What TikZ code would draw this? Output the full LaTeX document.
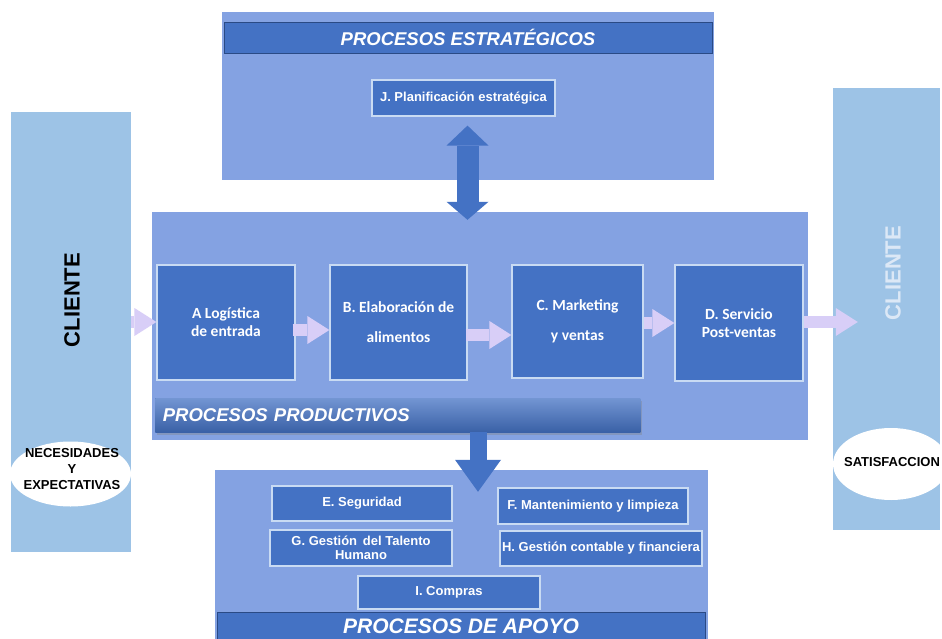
\documentclass[tikz,border=0pt]{standalone}
\usepackage{fontspec}
\setmainfont{Liberation Sans}
\newfontfamily\calfont{Carlito}
\usetikzlibrary{arrows.meta,shadows,shapes.geometric}
\definecolor{panel}{HTML}{9DC3E6}
\definecolor{procbg}{HTML}{84A2E2}
\definecolor{boxblue}{HTML}{4472C4}
\definecolor{boxline}{HTML}{C9DBF3}
\definecolor{bardark}{HTML}{2A4A85}
\definecolor{lav}{HTML}{D8CEF7}
\definecolor{clientlight}{HTML}{DCE8F6}
\tikzset{
  panelbox/.style={fill=panel, draw=none, inner sep=0pt},
  procarea/.style={fill=procbg, draw=none, inner sep=0pt},
  titlebar/.style={fill=boxblue, draw=bardark, line width=0.8pt, inner sep=0pt, text=white,
     font=\fontsize{18.5}{20}\selectfont\bfseries\itshape},
  procbox/.style={fill=boxblue, draw=boxline, line width=1.2pt, inner sep=0pt, text=white, align=center},
  stepfont/.style={font=\calfont\fontsize{15.5}{18}\selectfont\bfseries},
  smallfont/.style={font=\fontsize{13}{14}\selectfont\bfseries},
  oval/.style={ellipse, fill=white, draw=none, inner sep=0pt},
  ovaltext/.style={align=center, inner sep=0pt, font=\fontsize{13}{16}\selectfont\bfseries},
  lightarrow/.style={draw=lav, line width=12pt, -{Triangle[length=22pt,width=28pt,line width=0pt]}},
  bigarrow/.style={draw=boxblue, line width=22pt},
}
\begin{document}
\begin{tikzpicture}[x=1pt,y=-1pt]
\useasboundingbox[fill=white] (0,0) rectangle (942,639);

% client panels
\node[panelbox, minimum width=120pt, minimum height=440pt] (cl) at (71,332) {};
\node[panelbox, minimum width=107pt, minimum height=442pt] (cr) at (886.5,309) {};
\node[rotate=90, font=\fontsize{22}{24}\selectfont\bfseries] (cltxt) at (72,300) {CLIENTE};
\node[rotate=90, text=clientlight, font=\fontsize{22}{24}\selectfont\bfseries] (crtxt) at (893,273) {CLIENTE};
\node[oval, minimum width=121pt, minimum height=65pt] (nec) at (70.5,474) {};
\node[ovaltext] (nectxt) at (72,469) {NECESIDADES\\Y\\EXPECTATIVAS};
\node[oval, minimum width=116pt, minimum height=72pt] (sat) at (891,464) {};
\node[ovaltext] (sattxt) at (892,462) {SATISFACCION};

% strategic area
\node[procarea, minimum width=492pt, minimum height=168pt] (estr) at (468,96) {};
\node[titlebar, minimum width=488pt, minimum height=31pt] (estrbar) at (468,37.5) {PROCESOS ESTRATÉGICOS};
\node[procbox, smallfont, minimum width=183pt, minimum height=36pt] (J) at (463.5,98) {J. Planificación estratégica};

% productive area
\node[procarea, minimum width=656pt, minimum height=228pt] (prod) at (480,326) {};
\node[titlebar, draw=none, top color=boxblue!75!white, bottom color=boxblue!85!black,
      drop shadow={shadow xshift=2pt, shadow yshift=-3pt, opacity=0.35},
      minimum width=485pt, minimum height=34pt, anchor=west, text width=470pt, align=left]
      (prodbar) at (155,415) {PROCESOS PRODUCTIVOS};
\node[procbox, stepfont, minimum width=138pt, minimum height=115pt] (A) at (226,322.5) {A Logística\\de entrada};
\node[procbox, stepfont, minimum width=137pt, minimum height=115pt] (B) at (398.5,322.5) {B. Elaboración de\\[12pt]alimentos};
\node[procbox, stepfont, minimum width=131pt, minimum height=113pt] (C) at (577.5,321.5) {C. Marketing\\[12pt]y ventas};
\node[procbox, stepfont, minimum width=128pt, minimum height=116pt] (D) at (739,323) {D. Servicio\\Post-ventas};

% support area
\node[procarea, minimum width=493pt, minimum height=169pt] (apoyo) at (461.5,554.5) {};
\node[titlebar, minimum width=488pt, minimum height=28pt, font=\fontsize{21}{22}\selectfont\bfseries\itshape] (apoyobar) at (461,626) {PROCESOS DE APOYO};
\node[procbox, smallfont, minimum width=180pt, minimum height=35pt] (E) at (362,503.5) {E. Seguridad};
\node[procbox, smallfont, minimum width=190pt, minimum height=36pt] (F) at (593,506) {F. Mantenimiento y limpieza};
\node[procbox, smallfont, minimum width=182pt, minimum height=36pt] (G) at (361,548) {G. Gestión\, del Talento\\Humano};
\node[procbox, smallfont, minimum width=202pt, minimum height=35pt] (H) at (601,548.5) {H. Gestión contable y financiera};
\node[procbox, smallfont, minimum width=182pt, minimum height=33pt] (I) at (449,592.5) {I. Compras};

% light flow arrows
\draw[lightarrow] (cl.east |- 0,322) -- (A.west |- 0,322);
\draw[lightarrow] ([xshift=-3pt]A.east |- 0,330) -- (B.west |- 0,330);
\draw[lightarrow] ([xshift=-2pt]B.east |- 0,335) -- (C.west |- 0,335);
\draw[lightarrow] (C.east |- 0,323) -- (D.west |- 0,323);
\draw[lightarrow] (D.east |- 0,322) -- ([xshift=25pt]cr.west |- 0,322);

% big blue arrows
\draw[bigarrow, {Triangle[length=20pt,width=42pt,line width=0pt]}-{Triangle[length=18pt,width=42pt,line width=0pt]}]
   ([yshift=-9pt]J.south -| 467.5,0) -- ([yshift=-8pt]prod.north -| 467.5,0);
\draw[bigarrow, line width=17pt, -{Triangle[length=32pt,width=46pt,line width=0pt]}]
   ([yshift=8pt]prod.south -| 478,0) -- ([yshift=-22pt]apoyo.north -| 478,0);
\end{tikzpicture}
\end{document}
